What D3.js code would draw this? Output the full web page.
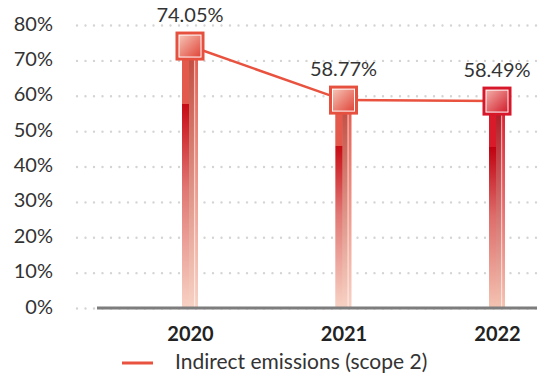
<!DOCTYPE html>
<html>
<head>
<meta charset="utf-8">
<script src="https://cdn.jsdelivr.net/npm/d3@7"></script>
<style>
  body { margin: 0; background: #fff; }
  svg { display: block; font-family: Lato, "Open Sans", sans-serif; }
</style>
</head>
<body>
<svg id="chart" width="539" height="374"></svg>
<script>
// Share of indirect (scope 2) emissions per year
const years = ["2020", "2021", "2022"];
const shares = [74.05, 58.77, 58.49];
const yTicks = [0, 10, 20, 30, 40, 50, 60, 70, 80];
const seriesName = "Indirect emissions (scope 2)";

const data = years.map((yr, i) => ({ year: yr, value: shares[i] }));

// Colour sets for each year's column and marker
const coral = { edge: "#e6503f", top: "#e35a4d", deep: "#c70b14", band: "#b9463b", low: "#f7d2c4", mLight: "#f5c2b4", mDark: "#e0473b" };
const crimson = { edge: "#d6182a", top: "#d81a2a", deep: "#c00010", band: "#a5121d", low: "#f4c3b2", mLight: "#f2aca6", mDark: "#d3202e" };
const tone = yr => (yr === "2022" ? crimson : coral);

const svg = d3.select("#chart");
const defs = svg.append("defs");

const x = d3.scalePoint().domain(years).range([190, 497]);
const y = d3.scaleLinear().domain([0, 80]).range([308, 25]);
const plotLeft = 77, plotRight = 537, axisStart = 97;
const barW = 16, markerR = 13;
const font = "Lato, 'Open Sans', sans-serif";

// Gradients
data.forEach((d, i) => {
  const t = tone(d.year);
  const body = defs.append("linearGradient").attr("id", "body" + i).attr("x1", 0).attr("y1", 0).attr("x2", 0).attr("y2", 1);
  body.append("stop").attr("offset", "0%").attr("stop-color", t.top);
  body.append("stop").attr("offset", "45%").attr("stop-color", d3.interpolateRgb(t.top, t.low)(0.45));
  body.append("stop").attr("offset", "100%").attr("stop-color", t.low);

  const left = defs.append("linearGradient").attr("id", "left" + i).attr("x1", 0).attr("y1", 0).attr("x2", 0).attr("y2", 1);
  left.append("stop").attr("offset", "0%").attr("stop-color", t.top);
  left.append("stop").attr("offset", "22%").attr("stop-color", t.top);
  left.append("stop").attr("offset", "22%").attr("stop-color", t.deep);
  left.append("stop").attr("offset", "55%").attr("stop-color", d3.interpolateRgb(t.deep, t.low)(0.55));
  left.append("stop").attr("offset", "100%").attr("stop-color", t.low);

  const band = defs.append("linearGradient").attr("id", "band" + i).attr("x1", 0).attr("y1", 0).attr("x2", 0).attr("y2", 1);
  band.append("stop").attr("offset", "0%").attr("stop-color", t.band);
  band.append("stop").attr("offset", "50%").attr("stop-color", d3.interpolateRgb(t.band, t.low)(0.5));
  band.append("stop").attr("offset", "100%").attr("stop-color", t.low);

  const mk = defs.append("linearGradient").attr("id", "mk" + i).attr("x1", 0).attr("y1", 0).attr("x2", 1).attr("y2", 1);
  mk.append("stop").attr("offset", "0%").attr("stop-color", t.mLight);
  mk.append("stop").attr("offset", "100%").attr("stop-color", t.mDark);
});

// Dotted gridlines
svg.append("g")
  .attr("transform", `translate(${plotLeft},0)`)
  .call(d3.axisRight(y).tickValues(yTicks).tickSize(plotRight - plotLeft).tickFormat(""))
  .call(g => g.select(".domain").remove())
  .call(g => g.selectAll(".tick line")
    .attr("stroke", "#d4d4d4")
    .attr("stroke-width", 2.4)
    .attr("stroke-linecap", "round")
    .attr("stroke-dasharray", "0,8.5"));

// Y axis labels
svg.append("g")
  .attr("transform", "translate(60,0)")
  .call(d3.axisLeft(y).tickValues(yTicks).tickSize(0).tickPadding(7).tickFormat(v => v + "%"))
  .call(g => g.select(".domain").remove())
  .call(g => g.selectAll("text")
    .attr("font-family", font)
    .attr("font-size", 20)
    .attr("font-weight", 400)
    .attr("fill", "#333")
    .attr("dy", "0.25em"));

// Columns
const cols = svg.append("g").selectAll("g.col").data(data).join("g").attr("class", "col");
cols.append("rect")
  .attr("x", d => x(d.year) - barW / 2)
  .attr("y", d => y(d.value))
  .attr("width", barW)
  .attr("height", d => y(0) - y(d.value))
  .attr("fill", (d, i) => `url(#body${i})`);
cols.append("rect")
  .attr("x", d => x(d.year) - barW / 2)
  .attr("y", d => y(d.value))
  .attr("width", barW * 0.44)
  .attr("height", d => y(0) - y(d.value))
  .attr("fill", (d, i) => `url(#left${i})`);
cols.append("rect")
  .attr("x", d => x(d.year) - barW / 2 + barW * 0.44)
  .attr("y", d => y(d.value))
  .attr("width", barW * 0.3)
  .attr("height", d => y(0) - y(d.value))
  .attr("fill", (d, i) => `url(#band${i})`)
  .attr("opacity", 0.85);
cols.append("rect")
  .attr("x", d => x(d.year) - barW / 2 + barW * 0.75)
  .attr("y", d => y(d.value))
  .attr("width", 1.2)
  .attr("height", d => y(0) - y(d.value))
  .attr("fill", "#fff")
  .attr("opacity", 0.55);

// Baseline
svg.append("line")
  .attr("x1", axisStart).attr("x2", plotRight)
  .attr("y1", y(0)).attr("y2", y(0))
  .attr("stroke", "#7d7d7d")
  .attr("stroke-width", 3);

// X axis labels
svg.append("g")
  .attr("transform", `translate(0,${y(0)})`)
  .call(d3.axisBottom(x).tickSize(0).tickPadding(19))
  .call(g => g.select(".domain").remove())
  .call(g => g.selectAll("text")
    .attr("font-family", font)
    .attr("font-size", 20)
    .attr("font-weight", 700)
    .attr("fill", "#222"));

// Trend line
svg.append("path")
  .datum(data)
  .attr("fill", "none")
  .attr("stroke", "#e8523f")
  .attr("stroke-width", 2.5)
  .attr("d", d3.line().x(d => x(d.year)).y(d => y(d.value)));

// Square markers
const marks = svg.append("g").selectAll("g.mark").data(data).join("g").attr("class", "mark")
  .attr("transform", d => `translate(${x(d.year)},${y(d.value)})`);
marks.append("rect")
  .attr("x", -markerR).attr("y", -markerR)
  .attr("width", markerR * 2).attr("height", markerR * 2)
  .attr("fill", "#fff")
  .attr("stroke", d => tone(d.year).edge)
  .attr("stroke-width", 3);
marks.append("rect")
  .attr("x", -markerR + 2.5).attr("y", -markerR + 2.5)
  .attr("width", markerR * 2 - 5).attr("height", markerR * 2 - 5)
  .attr("fill", (d, i) => `url(#mk${i})`);

// Value labels
svg.append("g").selectAll("text").data(data).join("text")
  .attr("x", d => x(d.year))
  .attr("y", d => y(d.value) - 24)
  .attr("text-anchor", "middle")
  .attr("font-family", font)
  .attr("font-size", 20)
  .attr("font-weight", 400)
  .attr("fill", "#333")
  .text(d => d.value.toFixed(2) + "%");

// Legend
const legend = svg.append("g");
legend.append("line")
  .attr("x1", 122).attr("x2", 153)
  .attr("y1", 363).attr("y2", 363)
  .attr("stroke", "#e8523f")
  .attr("stroke-width", 3);
legend.append("text")
  .attr("x", 175).attr("y", 369)
  .attr("font-family", font)
  .attr("font-size", 21)
  .attr("font-weight", 400)
  .attr("fill", "#333")
  .text(seriesName);
</script>
</body>
</html>
